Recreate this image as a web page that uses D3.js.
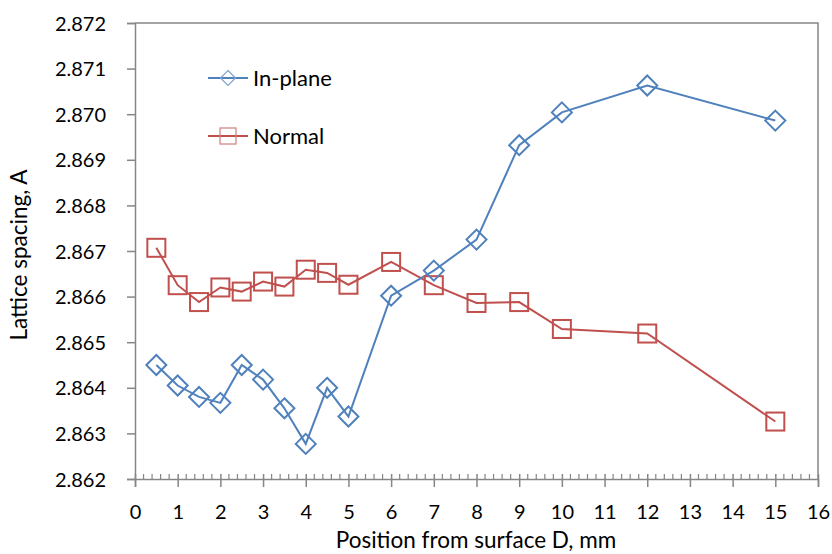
<!DOCTYPE html>
<html>
<head>
<meta charset="utf-8">
<script src="https://cdn.jsdelivr.net/npm/d3@7"></script>
<style>
  body { margin: 0; background: #fff; }
  text { font-family: Lato, "Open Sans", sans-serif; fill: #000; }
</style>
</head>
<body>
<svg id="chart" width="832" height="554"></svg>
<script>
// values
var positions = [0.5, 1, 1.5, 2, 2.5, 3, 3.5, 4, 4.5, 5, 6, 7, 8, 9, 10, 12, 15];
var inPlane = [2.8645, 2.86405, 2.8638, 2.86367, 2.8645, 2.86418, 2.86355, 2.86277, 2.8640, 2.86337,
               2.86602, 2.86657, 2.86725, 2.86932, 2.87004, 2.87063, 2.86986];
var normal = [2.86707, 2.86625, 2.86588, 2.8662, 2.86611, 2.86633, 2.86622, 2.86659, 2.86652, 2.86626,
              2.86676, 2.86625, 2.86586, 2.86588, 2.86529, 2.86519, 2.86326];
var xTicks = d3.range(0, 17, 1);
var yTicks = [2.862, 2.863, 2.864, 2.865, 2.866, 2.867, 2.868, 2.869, 2.870, 2.871, 2.872];

var blue = "#4F81BD", red = "#C0504D", axisCol = "#868686";
var tickSize = "20px", titleSize = "22.5px", legSize = "22px";

var svg = d3.select("#chart");
var mLeft = 135, mRight = 818, mTop = 23, mBottom = 479;

var x = d3.scaleLinear().domain([0, 16]).range([mLeft, mRight]);
var y = d3.scaleLinear().domain([2.862, 2.872]).range([mBottom, mTop]);

// plot border (top and right)
svg.append("path")
  .attr("d", "M" + mLeft + "," + mTop + "H" + mRight + "V" + mBottom)
  .attr("fill", "none").attr("stroke", axisCol).attr("stroke-width", 1.5);

// y axis
var yAxis = svg.append("g").attr("transform", "translate(" + mLeft + ",0)")
  .call(d3.axisLeft(y).tickValues(yTicks).tickSize(8).tickPadding(21).tickFormat(d3.format(".3f")));
yAxis.select(".domain").attr("stroke", axisCol).attr("stroke-width", 1.5);
yAxis.selectAll(".tick line").attr("stroke", axisCol).attr("stroke-width", 1.5);
yAxis.selectAll("text").style("font-size", tickSize).attr("dy", "0.35em");

// x axis, minor ticks inside
var minor = d3.range(0, 16.01, 0.2).filter(function(d) { return Math.abs(d - Math.round(d)) > 1e-6; });
svg.append("g").selectAll("line").data(minor).enter().append("line")
  .attr("x1", function(d) { return x(d); }).attr("x2", function(d) { return x(d); })
  .attr("y1", mBottom).attr("y2", mBottom - 5)
  .attr("stroke", axisCol).attr("stroke-width", 1.2);

var xAxis = svg.append("g").attr("transform", "translate(0," + mBottom + ")")
  .call(d3.axisBottom(x).tickValues(xTicks).tickSize(8).tickPadding(18).tickFormat(d3.format("d")));
xAxis.select(".domain").attr("stroke", axisCol).attr("stroke-width", 1.5);
xAxis.selectAll(".tick line").attr("stroke", axisCol).attr("stroke-width", 1.5).attr("y1", -5);
xAxis.selectAll("text").style("font-size", tickSize);

// axis titles
svg.append("text").attr("x", 476).attr("y", 548).attr("text-anchor", "middle")
  .style("font-size", titleSize).text("Position from surface D, mm");
svg.append("text").attr("transform", "translate(27,255) rotate(-90)")
  .attr("text-anchor", "middle").style("font-size", titleSize).text("Lattice spacing, A");

var line = d3.line()
  .x(function(d) { return x(d[0]); })
  .y(function(d) { return y(d[1]); });

var inData = positions.map(function(p, i) { return [p, inPlane[i]]; });
var nData = positions.map(function(p, i) { return [p, normal[i]]; });

svg.append("path").datum(nData).attr("d", line)
  .attr("fill", "none").attr("stroke", red).attr("stroke-width", 2);
svg.append("path").datum(inData).attr("d", line)
  .attr("fill", "none").attr("stroke", blue).attr("stroke-width", 2);

function diamond(g, cx, cy, r) {
  return g.append("path")
    .attr("d", "M" + cx + "," + (cy - r) + "L" + (cx + r) + "," + cy + "L" + cx + "," + (cy + r) + "L" + (cx - r) + "," + cy + "Z")
    .attr("fill", "none").attr("stroke", blue).attr("stroke-width", 2);
}
function square(g, cx, cy, s) {
  return g.append("rect").attr("x", cx - s / 2).attr("y", cy - s / 2).attr("width", s).attr("height", s)
    .attr("fill", "none").attr("stroke", red).attr("stroke-width", 2);
}

var marks = svg.append("g");
nData.forEach(function(d) { square(marks, x(d[0]), y(d[1]), 18); });
inData.forEach(function(d) { diamond(marks, x(d[0]), y(d[1]), 10); });

// legend
var leg = svg.append("g");
leg.append("line").attr("x1", 208).attr("x2", 248).attr("y1", 78).attr("y2", 78)
  .attr("stroke", blue).attr("stroke-width", 2);
diamond(leg, 228, 78, 7.5).attr("stroke-width", 1.2).attr("stroke", "#7FA3D3");
leg.append("text").attr("x", 253).attr("y", 78).attr("dy", "0.35em").style("font-size", legSize).text("In-plane");

leg.append("line").attr("x1", 208).attr("x2", 248).attr("y1", 136).attr("y2", 136)
  .attr("stroke", red).attr("stroke-width", 2);
square(leg, 228, 136, 16).attr("stroke-width", 1.2).attr("stroke", "#D07C7A");
leg.append("text").attr("x", 253).attr("y", 136).attr("dy", "0.35em").style("font-size", legSize).text("Normal");
</script>
</body>
</html>
